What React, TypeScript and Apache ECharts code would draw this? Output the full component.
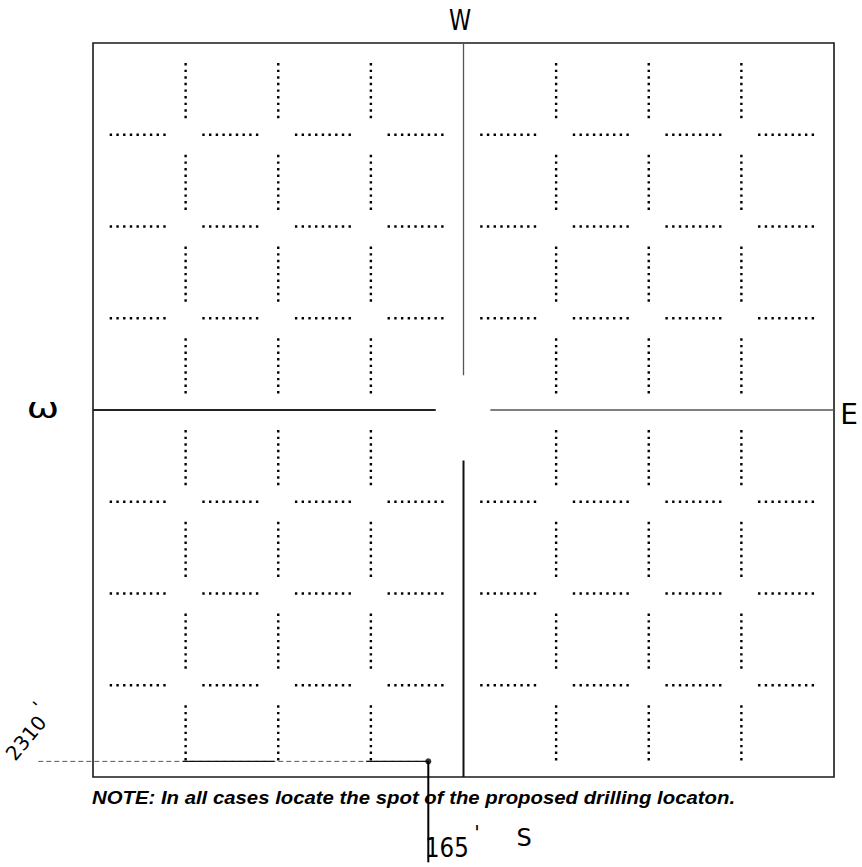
import React, { useEffect, useRef } from "react";
import * as echarts from "echarts";

// Section plat: 8 x 8 sub-divisions (quarter-quarter lines), in grid units
const SECTION_MIN = 0;
const SECTION_MAX = 8;
const dottedLinePositions = [1, 2, 3, 5, 6, 7];
const cellIndices = [0, 1, 2, 3, 4, 5, 6, 7];
const dottedSegmentStart = 0.18;
const dottedSegmentEnd = 0.82;

// centre cross (solid), with its gap around the centre of the section
const centerLine = 4;
const crossVerticalTop = [4.38, 8];
const crossVerticalBottom = [0, 3.45];
const crossHorizontalLeft = [0, 3.7];
const crossHorizontalRight = [4.29, 8];

// proposed drilling spot and its footage lines
const wellSpot = [3.62, 0.17];
const footageLineStartX = -0.59;
const footageSolidParts = [
  [0.97, 1.96],
  [2.95, 3.62],
];
const footageLineEndY = -0.93;

// labels
const noteText = "NOTE: In all cases locate the spot of the proposed drilling locaton.";
const topLabel = "W";
const leftLabel = "ω";
const rightLabel = "E";
const bottomLabel = "S";
const eastWestFootage = "2310";
const southFootage = "165";
const footMark = "'";

type Seg = [number, number, number, number];

const verticalDotted: Seg[] = [];
const horizontalDotted: Seg[] = [];
dottedLinePositions.forEach((p) => {
  cellIndices.forEach((c) => {
    verticalDotted.push([p, c + dottedSegmentStart, p, c + dottedSegmentEnd]);
    horizontalDotted.push([c + dottedSegmentStart, p, c + dottedSegmentEnd, p]);
  });
});

const segSeries = (data: Seg[], stroke: string, lineWidth: number, lineDash?: number[]) => ({
  type: "custom",
  clip: false,
  silent: true,
  data,
  renderItem: (_params: any, api: any) => {
    const a = api.coord([api.value(0), api.value(1)]);
    const b = api.coord([api.value(2), api.value(3)]);
    return {
      type: "line",
      shape: { x1: a[0], y1: a[1], x2: b[0], y2: b[1] },
      style: { stroke, lineWidth, lineDash: lineDash || null, lineCap: "butt" },
    };
  },
});

const hand = "DejaVu Sans";

export default function App() {
  const ref = useRef<HTMLDivElement>(null);
  useEffect(() => {
    document.body.style.margin = "0";
    const chart = echarts.init(ref.current!, null, { renderer: "svg" });
    chart.setOption({
      animation: false,
      backgroundColor: "#ffffff",
      grid: {
        left: 93,
        top: 43,
        width: 741,
        height: 734,
        show: true,
        borderColor: "#1a1a1a",
        borderWidth: 1.6,
        backgroundColor: "transparent",
      },
      xAxis: { type: "value", min: SECTION_MIN, max: SECTION_MAX, show: false },
      yAxis: { type: "value", min: SECTION_MIN, max: SECTION_MAX, show: false },
      series: [
        segSeries(verticalDotted, "#000", 2.4, [2.4, 4.2]),
        segSeries(horizontalDotted, "#000", 2.4, [2.4, 4.3]),
        segSeries([[centerLine, crossVerticalTop[0], centerLine, crossVerticalTop[1]]], "#555", 1.3),
        segSeries([[centerLine, crossVerticalBottom[0], centerLine, crossVerticalBottom[1]]], "#111", 2),
        segSeries([[crossHorizontalLeft[0], centerLine, crossHorizontalLeft[1], centerLine]], "#222", 1.8),
        segSeries([[crossHorizontalRight[0], centerLine, crossHorizontalRight[1], centerLine]], "#555", 1.3),
        segSeries([[footageLineStartX, wellSpot[1], wellSpot[0], wellSpot[1]]], "#555", 1, [5, 3]),
        segSeries(
          footageSolidParts.map((p) => [p[0], wellSpot[1], p[1], wellSpot[1]] as Seg),
          "#111",
          1.4
        ),
        segSeries([[wellSpot[0], wellSpot[1], wellSpot[0], footageLineEndY]], "#000", 2),
        {
          type: "scatter",
          clip: false,
          silent: true,
          symbol: "circle",
          symbolSize: 6,
          itemStyle: { color: "#000" },
          data: [wellSpot],
        },
      ],
      graphic: [
        {
          type: "text",
          x: 92,
          y: 797,
          scaleX: 1.1,
          style: {
            text: noteText,
            fontFamily: "Liberation Sans",
            fontWeight: "bold",
            fontStyle: "italic",
            fontSize: 18.5,
            fill: "#000",
            align: "left",
            verticalAlign: "middle",
          },
        },
        {
          type: "text",
          x: 460,
          y: 20,
          scaleX: 0.8,
          style: { text: topLabel, fontFamily: hand, fontSize: 28, fill: "#000", align: "center", verticalAlign: "middle" },
        },
        {
          type: "text",
          x: 43,
          y: 408,
          scaleX: 1.4,
          style: { text: leftLabel, fontFamily: hand, fontSize: 28, fill: "#000", align: "center", verticalAlign: "middle" },
        },
        {
          type: "text",
          x: 849,
          y: 414,
          style: { text: rightLabel, fontFamily: hand, fontSize: 28, fill: "#000", align: "center", verticalAlign: "middle" },
        },
        {
          type: "text",
          x: 524,
          y: 838,
          style: { text: bottomLabel, fontFamily: hand, fontSize: 24, fill: "#000", align: "center", verticalAlign: "middle" },
        },
        {
          type: "text",
          x: 425,
          y: 848,
          scaleX: 0.85,
          style: { text: southFootage, fontFamily: hand, fontSize: 27, fill: "#000", align: "left", verticalAlign: "middle" },
        },
        {
          type: "text",
          x: 477,
          y: 832,
          style: { text: footMark, fontFamily: hand, fontSize: 20, fill: "#000", align: "center", verticalAlign: "middle" },
        },
        {
          type: "text",
          x: 26,
          y: 738,
          rotation: 0.88,
          style: { text: eastWestFootage, fontFamily: hand, fontSize: 20, fill: "#000", align: "center", verticalAlign: "middle" },
        },
        {
          type: "text",
          x: 38,
          y: 706,
          rotation: 0.88,
          style: { text: footMark, fontFamily: hand, fontSize: 18, fill: "#000", align: "center", verticalAlign: "middle" },
        },
      ],
    });
    return () => chart.dispose();
  }, []);
  return <div ref={ref} style={{ width: 862, height: 867 }} />;
}
